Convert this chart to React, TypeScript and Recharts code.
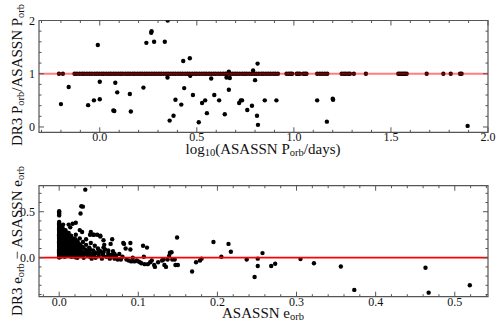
import React from "react";
import { ScatterChart, Scatter, XAxis, YAxis, ReferenceArea } from "recharts";

// ---- top panel: period ratio vs log10 ASASSN period ----
// points sitting on ratio = 1 (log10 P values)
const periodOnLineX = [
  -0.21, -0.19, -0.13, -0.118, -0.104, -0.091, -0.08, -0.066, -0.053, -0.041, -0.027, -0.015,
  -0.003, 0.01, 0.021, 0.034, 0.047, 0.058, 0.071, 0.083, 0.096, 0.108, 0.119, 0.133, 0.145,
  0.156, 0.17, 0.181, 0.194, 0.207, 0.218, 0.231, 0.243, 0.255, 0.268, 0.28, 0.292, 0.305,
  0.316, 0.329, 0.342, 0.353, 0.366, 0.378, 0.39, 0.403, 0.415, 0.427, 0.44, 0.452, 0.463,
  0.476, 0.489, 0.5, 0.513, 0.526, 0.538, 0.549, 0.562, 0.574, 0.587, 0.598, 0.611, 0.623,
  0.636, 0.648, 0.659, 0.672, 0.685, 0.697, 0.708, 0.721, 0.734, 0.746, 0.757, 0.77, 0.783,
  0.795, 0.806, 0.819, 0.832, 0.843, 0.856, 0.868, 0.88, 0.893, 0.905, 0.918, 0.962, 0.974,
  0.983, 0.991, 1.014, 1.022, 1.031, 1.048, 1.057, 1.065, 1.12, 1.134, 1.146, 1.16, 1.172,
  1.246, 1.258, 1.268, 1.28, 1.289, 1.309, 1.371, 1.538, 1.546, 1.555, 1.564, 1.572, 1.581,
  1.684, 1.77, 1.808, 1.856, 1.864,
];
// scattered points off the line [log10 P, ratio]
const periodOffLine: [number, number][] = [
  [-0.2, 0.43], [-0.16, 0.75], [-0.01, 1.54], [0.0, 0.85], [0.0, 0.52], [-0.03, 0.5],
  [-0.06, 0.41], [0.08, 0.83], [0.09, 0.65], [0.07, 0.31], [0.075, 0.3], [0.155, 0.62],
  [0.16, 0.29], [0.225, 0.74], [0.24, 1.58], [0.265, 1.77], [0.267, 1.8], [0.28, 1.6],
  [0.335, 1.6], [0.349, 0.93], [0.35, 2.0], [0.36, 0.12], [0.38, 0.21], [0.39, 0.51],
  [0.42, 0.42], [0.43, 1.24], [0.435, 0.73], [0.464, 1.29], [0.466, 0.96], [0.48, 0.6],
  [0.51, 0.09], [0.527, 0.45], [0.543, 0.5], [0.552, 0.26], [0.574, 0.91], [0.59, 0.6],
  [0.615, 0.5], [0.644, 0.24], [0.653, 0.93], [0.67, 0.92], [0.665, 0.7], [0.665, 1.04],
  [0.718, 0.45], [0.727, 0.5], [0.733, 0.5], [0.76, 0.32], [0.784, 0.4], [0.79, 1.06],
  [0.8, 0.88], [0.81, 0.21], [0.813, 1.19], [0.815, 0.04], [0.85, 0.5], [0.91, 0.5],
  [1.12, 0.5], [1.17, 0.1], [1.2, 0.53], [1.202, 0.51], [1.895, 0.02],
];
const periodXDomain = [-0.313, 2.0];
const periodYDomain = [-0.1, 2.0];
const periodXTicks = [-0.3, -0.2, -0.1, 0, 0.1, 0.2, 0.3, 0.4, 0.5, 0.6, 0.7, 0.8, 0.9, 1.0, 1.1, 1.2, 1.3, 1.4, 1.5, 1.6, 1.7, 1.8, 1.9, 2.0];
const periodXMajors = [0, 0.5, 1.0, 1.5, 2.0];
const periodYTicks = [0, 0.2, 0.4, 0.6, 0.8, 1.0, 1.2, 1.4, 1.6, 1.8, 2.0];
const periodYMajors = [0, 1, 2];

// ---- bottom panel: eccentricity difference vs ASASSN eccentricity ----
// ASASSN e = 0 column
const eccZeroColumnY = [
  0.002, 0.012, 0.025, 0.035, 0.046, 0.058, 0.07, 0.081, 0.093, 0.105, 0.118, 0.13, 0.142,
  0.155, 0.168, 0.18, 0.193, 0.205, 0.218, 0.23, 0.243, 0.256, 0.268, 0.281, 0.294, 0.307,
  0.32, 0.333, 0.347, 0.36, 0.374, 0.388, 0.46, 0.475, 0.49, 0.505,
];
// the crowded low-eccentricity wedge
const eccCore: [number, number][] = [
  [0.002, 0.01], [0.002, 0.04], [0.002, 0.07], [0.002, 0.1], [0.002, 0.13], [0.002, 0.16],
  [0.002, 0.19], [0.002, 0.22], [0.002, 0.25], [0.002, 0.28], [0.002, 0.31], [0.002, 0.34],
  [0.0055, 0.055], [0.0055, 0.105], [0.0055, 0.155], [0.0055, 0.205], [0.0055, 0.255], [0.0055, 0.305],
  [0.0085, 0.035], [0.0085, 0.085], [0.0085, 0.135], [0.0085, 0.185], [0.0085, 0.235], [0.0085, 0.28],
  [0.0115, 0.045], [0.0115, 0.095], [0.0115, 0.145], [0.0115, 0.195], [0.0115, 0.245],
  [0.0145, 0.015], [0.0145, 0.065], [0.0145, 0.115], [0.0145, 0.165], [0.0145, 0.215],
  [0.0175, 0.035], [0.0175, 0.085], [0.0175, 0.135], [0.0175, 0.185],
  [0.0205, 0.005], [0.0205, 0.055], [0.0205, 0.105], [0.0205, 0.155], [0.0205, 0.2],
  [0.0235, 0.03], [0.0235, 0.075], [0.0235, 0.125], [0.0235, 0.17],
  [0.0265, 0.045], [0.0265, 0.095], [0.0265, 0.14],
  [0.03, 0.03], [0.03, 0.06], [0.03, 0.11], [0.035, 0.04], [0.035, 0.08],
  [0.039, 0.01], [0.039, 0.05], [0.039, 0.09], [0.044, 0.02], [0.044, 0.06],
  [0.05, 0.045], [0.05, 0.08], [0.056, 0.02], [0.056, 0.06], [0.056, 0.11],
  [0.062, 0.02], [0.062, 0.08], [0.065, 0.15], [0.067, 0.2], [0.07, 0.04], [0.07, -0.01],
];
const eccPoints: [number, number][] = [
  [0.004, 0.03], [0.004, 0.08], [0.004, 0.13], [0.004, 0.18], [0.004, 0.23], [0.004, 0.28], [0.004, 0.33], [0.005, 0.36],
  [0.007, 0.01], [0.007, 0.06], [0.007, 0.11], [0.007, 0.16], [0.007, 0.21], [0.008, 0.26], [0.008, 0.3],
  [0.01, 0.02], [0.01, 0.07], [0.01, 0.12], [0.011, 0.17], [0.011, 0.22], [0.012, 0.27], [0.012, 0.36],
  [0.013, 0.04], [0.013, 0.09], [0.014, 0.14], [0.014, 0.19], [0.014, 0.33], [0.015, 0.24],
  [0.016, 0.01], [0.016, 0.06], [0.017, 0.11], [0.017, 0.37], [0.018, 0.16], [0.018, 0.21],
  [0.019, 0.03], [0.02, 0.08], [0.02, 0.13], [0.021, 0.38], [0.021, 0.25], [0.022, 0.18],
  [0.023, 0.0], [0.023, 0.05], [0.024, 0.1], [0.025, 0.15], [0.026, 0.21], [0.026, 0.3],
  [0.027, 0.02], [0.028, 0.07], [0.029, 0.12], [0.029, 0.28], [0.03, 0.17],
  [0.031, 0.0], [0.032, 0.04], [0.033, 0.09], [0.034, 0.14], [0.034, 0.2],
  [0.036, 0.02], [0.037, 0.06], [0.038, 0.11], [0.039, 0.25], [0.04, 0.16],
  [0.041, -0.01], [0.042, 0.03], [0.043, 0.08], [0.043, 0.25], [0.045, 0.13],
  [0.046, 0.0], [0.047, 0.05], [0.048, 0.25], [0.049, 0.1], [0.05, 0.02],
  [0.052, 0.23], [0.052, 0.07], [0.054, -0.01], [0.055, 0.04], [0.056, 0.19], [0.057, 0.14], [0.058, 0.09],
  [0.06, 0.01], [0.062, 0.05], [0.064, -0.01], [0.066, 0.03], [0.068, 0.07], [0.07, 0.0],
  [0.072, 0.02], [0.074, -0.02], [0.076, 0.04], [0.078, -0.02], [0.08, 0.01], [0.081, 0.16],
  [0.082, 0.15], [0.084, 0.1], [0.085, -0.02], [0.088, -0.03], [0.09, 0.16], [0.09, 0.09],
  [0.091, -0.04], [0.093, 0.0], [0.095, -0.04], [0.098, -0.03], [0.1, -0.04], [0.102, -0.05],
  [0.104, -0.06], [0.106, 0.13], [0.107, 0.01], [0.108, -0.07], [0.111, 0.11], [0.112, -0.07],
  [0.115, -0.05], [0.117, -0.03], [0.12, -0.08], [0.121, -0.1], [0.125, -0.05],
  [0.13, -0.03], [0.132, -0.02], [0.133, -0.08], [0.135, -0.1], [0.137, -0.02], [0.139, 0.02],
  [0.14, 0.055], [0.142, 0.06], [0.143, -0.02], [0.146, -0.02], [0.147, -0.08], [0.149, 0.22], [0.15, -0.08],
  [0.168, -0.15], [0.173, -0.05], [0.178, -0.03], [0.18, -0.01], [0.195, 0.17], [0.205, 0.01],
  [0.214, 0.15], [0.217, 0.065], [0.237, -0.02], [0.247, -0.21], [0.251, -0.01], [0.251, -0.09],
  [0.257, 0.05], [0.268, -0.09], [0.273, -0.065], [0.305, -0.015], [0.322, -0.06], [0.356, -0.095],
  [0.373, -0.35], [0.463, -0.11], [0.467, -0.38], [0.519, -0.3],
  [0.033, 0.74], [0.028, 0.56], [0.03, 0.555], [0.027, 0.48], [0.04, 0.28], [0.044, 0.25], [0.052, 0.24],
];
const eccXDomain = [-0.0255, 0.542];
const eccYDomain = [-0.424, 0.783];
const eccXTicks = [-0.02, 0, 0.02, 0.04, 0.06, 0.08, 0.1, 0.12, 0.14, 0.16, 0.18, 0.2, 0.22, 0.24, 0.26, 0.28, 0.3, 0.32, 0.34, 0.36, 0.38, 0.4, 0.42, 0.44, 0.46, 0.48, 0.5, 0.52, 0.54];
const eccXMajors = [0, 0.1, 0.2, 0.3, 0.4, 0.5];
const eccYTicks = [-0.4, -0.3, -0.2, -0.1, 0, 0.1, 0.2, 0.3, 0.4, 0.5, 0.6, 0.7];
const eccYMajors = [0, 0.5];

const FONT = "Liberation Serif, Times New Roman, serif";
const AXIS = "#555";

const isIn = (arr: number[], v: number) => arr.some((m) => Math.abs(m - v) < 1e-9);

function makeXTick(top: number, bottom: number, majors: number[], digits: number) {
  return (props: any) => {
    const { x, payload } = props;
    const major = isIn(majors, payload.value);
    const len = major ? 5 : 2.5;
    return (
      <g>
        <line x1={x} x2={x} y1={bottom} y2={bottom - len} stroke={AXIS} />
        <line x1={x} x2={x} y1={top} y2={top + len} stroke={AXIS} />
        {major && (
          <text x={x} y={bottom + 9} textAnchor="middle" fontFamily={FONT} fontSize={12} fill="#111">
            {payload.value.toFixed(digits)}
          </text>
        )}
      </g>
    );
  };
}

function makeYTick(left: number, right: number, majors: number[], digits: number) {
  return (props: any) => {
    const { y, payload } = props;
    const major = isIn(majors, payload.value);
    const len = major ? 5 : 2.5;
    return (
      <g>
        <line x1={left} x2={left + len} y1={y} y2={y} stroke={AXIS} />
        <line x1={right} x2={right - len} y1={y} y2={y} stroke={AXIS} />
        {major && (
          <text x={left - 4} y={y + 4} textAnchor="end" fontFamily={FONT} fontSize={12} fill="#111">
            {payload.value.toFixed(digits)}
          </text>
        )}
      </g>
    );
  };
}

const dot = (props: any) => <circle cx={props.cx} cy={props.cy} r={2.2} fill="#000" />;
const noDot = () => <g />;

const Sub = ({ children }: { children: React.ReactNode }) => (
  <sub style={{ fontSize: "0.7em", verticalAlign: "-0.25em", lineHeight: 0 }}>{children}</sub>
);

const labelStyle = (left: number, top: number, rotate: boolean): React.CSSProperties => ({
  position: "absolute",
  left,
  top,
  transform: `translate(-50%, -50%)${rotate ? " rotate(-90deg)" : ""}`,
  whiteSpace: "nowrap",
  fontFamily: FONT,
  fontSize: 15,
  color: "#111",
  lineHeight: 1,
});

const PLOT_L = 39;
const PLOT_R = 488;

export default function App() {
  const onLine = periodOnLineX.map((x) => ({ x, y: 1 }));
  const offLine = periodOffLine.map(([x, y]) => ({ x, y }));
  const unity = periodXDomain.map((x) => ({ x, y: 1 }));
  const ecc = [
    ...eccZeroColumnY.map((y) => ({ x: 0, y })),
    ...eccCore.map(([x, y]) => ({ x, y })),
    ...eccPoints.map(([x, y]) => ({ x, y })),
  ];
  const zeroLine = eccXDomain.map((x) => ({ x, y: 0 }));

  const topTop = 20.5;
  const topBottom = 132.3;
  const botTop = 19.7;
  const botBottom = 130.7;

  return (
    <div style={{ position: "absolute", left: 0, top: 0, width: 498, height: 332, background: "#fff" }}>
      <div style={{ position: "absolute", left: 0, top: 0 }}>
        <ScatterChart width={498} height={166} margin={{ top: topTop, right: 498 - PLOT_R, bottom: 166 - topBottom - 30, left: 0 }}>
          <XAxis
            type="number"
            dataKey="x"
            domain={periodXDomain}
            ticks={periodXTicks}
            interval={0}
            tick={makeXTick(topTop, topBottom, periodXMajors, 1)}
            tickLine={false}
            axisLine={false}
            height={30}
            allowDataOverflow
          />
          <YAxis
            type="number"
            dataKey="y"
            domain={periodYDomain}
            ticks={periodYTicks}
            interval={0}
            tick={makeYTick(PLOT_L, PLOT_R, periodYMajors, 0)}
            tickLine={false}
            axisLine={false}
            width={PLOT_L}
            allowDataOverflow
          />
          <Scatter data={onLine} shape={dot} isAnimationActive={false} />
          <Scatter data={offLine} shape={dot} isAnimationActive={false} />
          <Scatter
            data={unity}
            shape={noDot}
            line={{ stroke: "#ff0000", strokeOpacity: 0.5, strokeWidth: 2 }}
            isAnimationActive={false}
          />
          <ReferenceArea x1={periodXDomain[0]} x2={periodXDomain[1]} y1={periodYDomain[0]} y2={periodYDomain[1]} fill="none" stroke={AXIS} strokeWidth={1.2} />
        </ScatterChart>
      </div>
      <div style={{ position: "absolute", left: 0, top: 166 }}>
        <ScatterChart width={498} height={166} margin={{ top: botTop, right: 498 - PLOT_R, bottom: 166 - botBottom - 30, left: 0 }}>
          <XAxis
            type="number"
            dataKey="x"
            domain={eccXDomain}
            ticks={eccXTicks}
            interval={0}
            tick={makeXTick(botTop, botBottom, eccXMajors, 1)}
            tickLine={false}
            axisLine={false}
            height={30}
            allowDataOverflow
          />
          <YAxis
            type="number"
            dataKey="y"
            domain={eccYDomain}
            ticks={eccYTicks}
            interval={0}
            tick={makeYTick(PLOT_L, PLOT_R, eccYMajors, 1)}
            tickLine={false}
            axisLine={false}
            width={PLOT_L}
            allowDataOverflow
          />
          <Scatter data={ecc} shape={dot} isAnimationActive={false} />
          <Scatter
            data={zeroLine}
            shape={noDot}
            line={{ stroke: "#ff0000", strokeWidth: 1.8 }}
            isAnimationActive={false}
          />
          <ReferenceArea x1={eccXDomain[0]} x2={eccXDomain[1]} y1={eccYDomain[0]} y2={eccYDomain[1]} fill="none" stroke={AXIS} strokeWidth={1.2} />
        </ScatterChart>
      </div>

      <div style={labelStyle(17, 75, true)}>
        DR3 P<Sub>orb</Sub>/ASASSN P<Sub>orb</Sub>
      </div>
      <div style={labelStyle(263, 149, false)}>
        log<Sub>10</Sub>(ASASSN P<Sub>orb</Sub>/days)
      </div>
      <div style={labelStyle(17, 240.5, true)}>
        DR3 e<Sub>orb</Sub> − ASASSN e<Sub>orb</Sub>
      </div>
      <div style={labelStyle(263, 312.5, false)}>
        ASASSN e<Sub>orb</Sub>
      </div>
    </div>
  );
}
